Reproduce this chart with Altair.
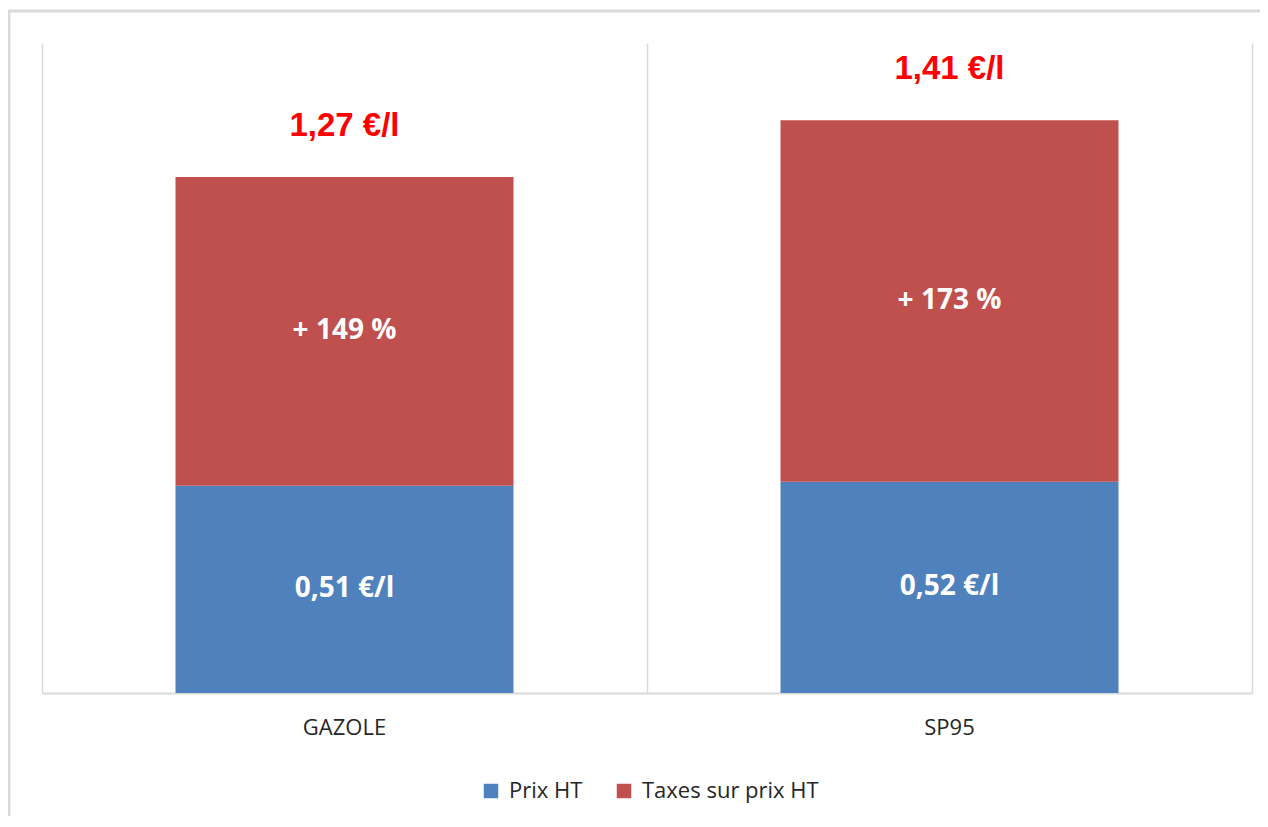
import altair as alt
import pandas as pd

# ---- data ----
fuels = ["GAZOLE", "SP95"]
prix_ht = [0.51, 0.52]          # €/l, price before tax
totals = [1.27, 1.41]           # €/l, price incl. taxes
tax_pct_labels = ["+ 149 %", "+ 173 %"]
components = ["Prix HT", "Taxes sur prix HT"]
colors = ["#4F81BD", "#C0504D"]


def euro(v):
    return f"{v:.2f}".replace(".", ",") + " €/l"


rows = []
for f, p, t, pct in zip(fuels, prix_ht, totals, tax_pct_labels):
    rows.append({"fuel": f, "component": components[0], "y0": 0.0, "y1": p,
                 "label": euro(p), "order": 0})
    rows.append({"fuel": f, "component": components[1], "y0": p, "y1": t,
                 "label": pct, "order": 1})
seg = pd.DataFrame(rows)
tot = pd.DataFrame({"fuel": fuels, "total": totals,
                    "label": [euro(t) for t in totals]})

W, H = 1210, 650
GRID = "#d9d9d9"

x_enc = alt.X(
    "fuel:N", sort=fuels,
    scale=alt.Scale(paddingInner=0, paddingOuter=0),
    axis=alt.Axis(
        title=None, labelAngle=0, ticks=False, grid=True, gridColor=GRID,
        gridWidth=1.5, bandPosition=1, tickExtra=True,
        domainColor=GRID, domainWidth=2,
        labelFont="Open Sans", labelFontSize=22, labelColor="#262626",
        labelPadding=24,
    ),
)
y_scale = alt.Scale(domain=[0, 1.6], nice=False)

bars = alt.Chart(seg).mark_bar(size=338).encode(
    x=x_enc,
    y=alt.Y("y0:Q", scale=y_scale, axis=None),
    y2="y1:Q",
    color=alt.Color(
        "component:N",
        scale=alt.Scale(domain=components, range=colors),
        legend=alt.Legend(
            title=None, orient="none", direction="horizontal",
            legendX=438, legendY=737,
            symbolType="square", symbolSize=210, symbolStrokeWidth=0,
            labelFont="Open Sans", labelFontSize=22, labelColor="#262626",
            labelOffset=7, columnPadding=30, labelLimit=400,
        ),
    ),
    order=alt.Order("order:Q"),
)

seg_text = alt.Chart(seg).transform_calculate(
    mid="(datum.y0 + datum.y1) / 2"
).mark_text(
    color="white", font="Open Sans", fontWeight="bold", fontSize=28,
    baseline="middle", align="center",
).encode(
    x=alt.X("fuel:N", sort=fuels),
    y=alt.Y("mid:Q", scale=y_scale, axis=None),
    text="label:N",
)

tot_text = alt.Chart(tot).mark_text(
    color="#FF0000", font="Liberation Sans", fontWeight="bold", fontSize=33,
    baseline="alphabetic", align="center", dy=-41,
).encode(
    x=alt.X("fuel:N", sort=fuels),
    y=alt.Y("total:Q", scale=y_scale, axis=None),
    text="label:N",
)

# light grey outer frame of the chart object (decoration)
frame = alt.Chart(pd.DataFrame({"k": [0]})).mark_rect(
    filled=False, stroke=GRID, strokeWidth=3
).encode(
    x=alt.value(-33), x2=alt.value(1400),
    y=alt.value(-32), y2=alt.value(1000),
)

chart = alt.layer(frame, bars, seg_text, tot_text).properties(
    width=W, height=H,
    background="white",
    autosize=alt.AutoSizeParams(type="none"),
    padding={"left": 34, "top": 35, "right": 8, "bottom": 123},
).configure_view(stroke="transparent")

chart.save("out.html", embed_options={"renderer": "svg", "actions": False})
